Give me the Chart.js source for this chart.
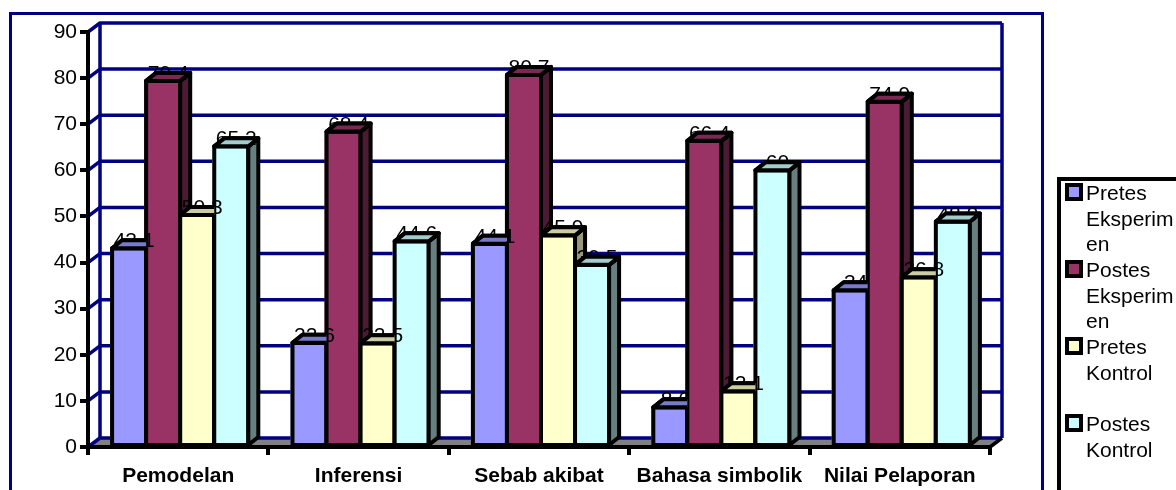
<!DOCTYPE html>
<html>
<head>
<meta charset="utf-8">
<script src="https://cdn.jsdelivr.net/npm/chart.js@4.4.1/dist/chart.umd.min.js"></script>
<style>
  html, body { margin: 0; padding: 0; background: #fff; overflow: hidden; }
  #wrap { position: relative; width: 1176px; height: 490px; }
  #legend {
    position: absolute; left: 1057px; top: 177px; width: 140px; height: 340px;
    border: 4px solid #000; box-sizing: border-box;
    font: 21px Arial, "Liberation Sans", sans-serif; color: #000;
  }
  .item { position: relative; height: 77px; }
  .item .box { position: absolute; left: 4px; top: 2px; width: 10px; height: 10px; border: 4px solid #000; }
  .item .txt { position: absolute; left: 25px; top: -1px; width: 92px; line-height: 25.5px; overflow-wrap: anywhere; }
</style>
</head>
<body>
<div id="wrap">
  <canvas id="chart" width="1176" height="490"></canvas>
  <div id="legend"></div>
</div>
<script>
const categories = ["Pemodelan", "Inferensi", "Sebab akibat", "Bahasa simbolik", "Nilai Pelaporan"];
const seriesNames = ["Pretes Eksperimen", "Postes Eksperimen", "Pretes Kontrol", "Postes Kontrol"];
const pretesEksperimen = [43.1, 22.6, 44.1, 8.6, 34];
const postesEksperimen = [79.4, 68.4, 80.7, 66.4, 74.9];
const pretesKontrol = [50.3, 22.5, 45.9, 12.1, 36.8];
const postesKontrol = [65.2, 44.6, 39.5, 60, 48.9];
const yTicks = [0, 10, 20, 30, 40, 50, 60, 70, 80, 90];

const frontColors = ["#9999ff", "#993366", "#ffffcc", "#ccffff"];
const sideColors = ["#4d4d80", "#4d1a33", "#99997a", "#668080"];
const topColors = ["#7a7acc", "#7a2952", "#ccccA3", "#a3cccc"];

const FONT = "Arial, 'Liberation Sans', sans-serif";
const NAVY = "#000080";
const DX = 10, DY = -8;   // bar depth
const WX = 12, WY = -9;   // wall depth

// legend
const legend = document.getElementById("legend");
seriesNames.forEach((name, i) => {
  const item = document.createElement("div");
  item.className = "item";
  item.innerHTML = `<div class="box" style="background:${frontColors[i]}"></div><div class="txt">${name}</div>`;
  legend.appendChild(item);
});

function poly(ctx, pts, fill) {
  ctx.beginPath();
  ctx.moveTo(pts[0][0], pts[0][1]);
  for (let i = 1; i < pts.length; i++) ctx.lineTo(pts[i][0], pts[i][1]);
  ctx.closePath();
  ctx.fillStyle = fill;
  ctx.fill();
  ctx.stroke();
}

function barBox(bar) {
  const p = bar.getProps(["x", "y", "base", "width"], true);
  const shift = 2; // Excel sets the group a little right of the category centre
  return { l: p.x - p.width / 2 + shift, r: p.x + p.width / 2 + shift, y: p.y, base: p.base, x: p.x + shift };
}

function drawTop(ctx, b, col) {
  poly(ctx, [[b.l, b.y], [b.l + DX, b.y + DY], [b.r + DX, b.y + DY], [b.r, b.y]], col);
}

const wallPlugin = {
  id: "wall3d",
  beforeDraw(chart) {
    const ctx = chart.ctx;
    const { left, right, top, bottom } = chart.chartArea;
    const ys = chart.scales.y;
    ctx.save();
    // outer frame
    ctx.strokeStyle = NAVY;
    ctx.lineWidth = 3;
    ctx.strokeRect(10.5, 13.5, 1032, 500);
    // floor
    ctx.fillStyle = "#808080";
    ctx.beginPath();
    ctx.moveTo(left, bottom); ctx.lineTo(right, bottom);
    ctx.lineTo(right + WX, bottom + WY); ctx.lineTo(left + WX, bottom + WY);
    ctx.closePath(); ctx.fill();
    // gridlines on side and back wall
    ctx.strokeStyle = NAVY;
    ctx.lineWidth = 3.5;
    ctx.lineJoin = "round";
    yTicks.forEach(v => {
      const py = ys.getPixelForValue(v);
      ctx.beginPath();
      ctx.moveTo(left, py);
      ctx.lineTo(left + WX, py + WY);
      ctx.lineTo(right + WX, py + WY);
      ctx.stroke();
    });
    ctx.beginPath();
    ctx.moveTo(left + WX, top + WY); ctx.lineTo(left + WX, bottom + WY);
    ctx.moveTo(right + WX, top + WY); ctx.lineTo(right + WX, bottom + WY);
    ctx.stroke();
    // floor edge
    ctx.strokeStyle = "#000";
    ctx.beginPath();
    ctx.moveTo(right, bottom); ctx.lineTo(right + WX, bottom + WY);
    ctx.stroke();
    ctx.restore();
  }
};

const barsPlugin = {
  id: "bars3d",
  afterDatasetsDraw(chart) {
    const ctx = chart.ctx;
    const n = chart.data.datasets.length;
    ctx.save();
    ctx.strokeStyle = "#000";
    ctx.lineWidth = 4;
    ctx.lineJoin = "round";
    for (let d = 0; d < n; d++) {
      chart.getDatasetMeta(d).data.forEach(bar => {
        const b = barBox(bar);
        poly(ctx, [[b.l, b.y], [b.r, b.y], [b.r, b.base], [b.l, b.base]], frontColors[d]);
        poly(ctx, [[b.r, b.y], [b.r + DX, b.y + DY], [b.r + DX, b.base + DY], [b.r, b.base]], sideColors[d]);
        drawTop(ctx, b, topColors[d]);
      });
    }
    // value labels
    ctx.fillStyle = "#000";
    ctx.font = "21px " + FONT;
    ctx.textAlign = "center";
    ctx.textBaseline = "alphabetic";
    for (let d = 0; d < n; d++) {
      const vals = chart.data.datasets[d].data;
      chart.getDatasetMeta(d).data.forEach((bar, i) => {
        const b = barBox(bar);
        ctx.fillText(String(vals[i]), b.x + DX / 2, b.y - 1);
      });
    }
    // tops again, partly covering the labels
    for (let d = 0; d < n; d++) {
      chart.getDatasetMeta(d).data.forEach((bar, i) => {
        const b = barBox(bar);
        ctx.save();
        if (d < n - 1) {
          const nb = barBox(chart.getDatasetMeta(d + 1).data[i]);
          if (nb.y < b.y) {
            ctx.beginPath();
            ctx.rect(0, 0, b.r, 490);
            ctx.clip();
          }
        }
        drawTop(ctx, b, topColors[d]);
        ctx.restore();
      });
    }
    ctx.restore();
  }
};

const seriesData = [pretesEksperimen, postesEksperimen, pretesKontrol, postesKontrol];

new Chart(document.getElementById("chart").getContext("2d"), {
  type: "bar",
  data: {
    labels: categories,
    datasets: seriesNames.map((name, i) => ({
      label: name,
      data: seriesData[i],
      backgroundColor: frontColors[i],
      borderWidth: 0,
      categoryPercentage: 0.755,
      barPercentage: 1
    }))
  },
  options: {
    responsive: false,
    devicePixelRatio: 1,
    animation: false,
    events: [],
    layout: { padding: { left: 10, right: 186, top: 32, bottom: 0 } },
    plugins: { legend: { display: false }, tooltip: { enabled: false } },
    scales: {
      x: {
        afterFit: s => { s.height = 43; },
        grid: { display: true, drawOnChartArea: false, offset: true, tickLength: 8, color: "#000", lineWidth: 4 },
        border: { display: true, color: "#000", width: 4 },
        ticks: { color: "#000", font: { family: FONT, size: 21, weight: "bold" }, padding: 9, maxRotation: 0, autoSkip: false }
      },
      y: {
        min: 0, max: 90,
        afterFit: s => { s.width = 78; },
        afterBuildTicks: s => { s.ticks = yTicks.map(v => ({ value: v })); },
        grid: { display: true, drawOnChartArea: false, tickLength: 8, color: "#000", lineWidth: 4 },
        border: { display: true, color: "#000", width: 4 },
        ticks: { color: "#000", font: { family: FONT, size: 21 }, padding: 3 }
      }
    }
  },
  plugins: [wallPlugin, barsPlugin]
});
</script>
</body>
</html>
